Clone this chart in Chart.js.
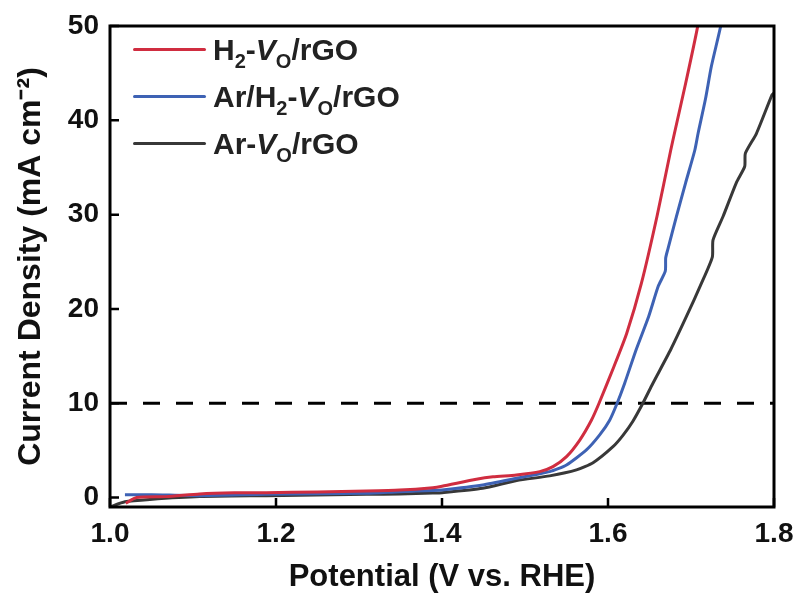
<!DOCTYPE html>
<html>
<head>
<meta charset="utf-8">
<script src="https://cdn.jsdelivr.net/npm/chart.js@4"></script>
<style>
  html, body { margin: 0; padding: 0; background: #fff; }
  #wrap { position: relative; width: 799px; height: 601px; }
  #legend { position: absolute; left: 133px; top: 26px; font-family: "Liberation Sans", Arial, sans-serif; font-weight: bold; font-size: 30px; color: #222; }
  #legend .row { display: flex; align-items: center; height: 47px; }
  #legend .line { width: 73px; height: 3px; margin-right: 7px; border-radius: 2px; }
  #legend sub { font-size: 20px; vertical-align: -8px; line-height: 0; }
</style>
</head>
<body>
<div id="wrap">
  <canvas id="lsvChart" width="799" height="601"></canvas>
  <div id="legend"></div>
</div>
<script>
// data
const seriesNames = ['H<sub>2</sub>-<i>V</i><sub>O</sub>/rGO', 'Ar/H<sub>2</sub>-<i>V</i><sub>O</sub>/rGO', 'Ar-<i>V</i><sub>O</sub>/rGO'];
const seriesColors = ['#d02d40', '#3e62b4', '#383838'];

const h2Potential = [1.019, 1.032, 1.068, 1.108, 1.15, 1.188, 1.25, 1.309, 1.349, 1.389, 1.4, 1.4414, 1.4615, 1.4896, 1.5177, 1.5337, 1.55, 1.566, 1.58, 1.5892, 1.6072, 1.6225, 1.6402, 1.659, 1.6755, 1.68, 1.6935, 1.7077, 1.709];
const h2Current   = [-0.6, 0.0, 0.1, 0.38, 0.5, 0.52, 0.6, 0.7, 0.8, 1.05, 1.2, 1.94, 2.2, 2.4, 2.75, 3.28, 4.34, 6.1, 8.2, 10, 13.9, 17.4, 22.7, 29.8, 36.8, 38.6, 43.9, 49.8, 51];

const arH2Potential = [1.018, 1.05, 1.108, 1.188, 1.309, 1.349, 1.389, 1.4, 1.449, 1.49, 1.5297, 1.55, 1.574, 1.59, 1.602, 1.611, 1.62, 1.634, 1.649, 1.6605, 1.669, 1.6695, 1.672, 1.6824, 1.6936, 1.7045, 1.7085, 1.7173, 1.7245, 1.7358, 1.737];
const arH2Current   = [0.3, 0.3, 0.2, 0.35, 0.45, 0.63, 0.75, 0.8, 1.34, 2.05, 2.75, 3.46, 5.05, 6.64, 8.2, 10, 12.1, 15.7, 19.2, 22.4, 24.0, 25.4, 26.3, 29.8, 33.4, 36.8, 38.6, 42.2, 45.7, 50, 51];

const arPotential = [1.0, 1.018, 1.048, 1.108, 1.188, 1.309, 1.349, 1.389, 1.4, 1.449, 1.49, 1.5297, 1.562, 1.582, 1.606, 1.618, 1.63, 1.642, 1.654, 1.6756, 1.6945, 1.7125, 1.7257, 1.7265, 1.7386, 1.7547, 1.7647, 1.7655, 1.7788, 1.7976, 1.8];
const arCurrent   = [-1.0, -0.45, -0.2, 0.1, 0.2, 0.35, 0.38, 0.48, 0.52, 0.98, 1.8, 2.3, 2.93, 3.7, 5.4, 6.6, 8.1, 10, 12.1, 15.7, 19.2, 22.7, 25.5, 27.3, 29.8, 33.4, 35.1, 36.5, 38.6, 42.7, 42.9];

const refPotential = [1.0, 1.8];
const refCurrent = [10, 10];

const xTicks = [1.0, 1.2, 1.4, 1.6, 1.8];
const yTicks = [0, 10, 20, 30, 40, 50];

function toPoints(xs, ys) {
    return xs.map((x, i) => ({ x: x, y: ys[i] }));
}

const fontFamily = '"Liberation Sans", Arial, sans-serif';
Chart.defaults.font.family = fontFamily;
Chart.defaults.color = '#111';

// frame and inward tick marks
const framePlugin = {
    id: 'frame',
    afterDraw(chart) {
        const ctx = chart.ctx;
        const a = chart.chartArea;
        const xs = chart.scales.x;
        const ys = chart.scales.y;
        ctx.save();
        ctx.strokeStyle = '#000';
        ctx.lineWidth = 3;
        ctx.strokeRect(a.left, a.top, a.right - a.left, a.bottom - a.top);
        ctx.lineWidth = 2.5;
        ctx.beginPath();
        xTicks.forEach(v => {
            const px = xs.getPixelForValue(v);
            ctx.moveTo(px, a.bottom);
            ctx.lineTo(px, a.bottom - 9);
        });
        yTicks.forEach(v => {
            const py = ys.getPixelForValue(v);
            ctx.moveTo(a.left, py);
            ctx.lineTo(a.left + 9, py);
        });
        ctx.stroke();
        ctx.restore();
    }
};

const curves = [
    toPoints(h2Potential, h2Current),
    toPoints(arH2Potential, arH2Current),
    toPoints(arPotential, arCurrent)
];

const datasets = curves.map((pts, i) => ({
    label: seriesNames[i].replace(/<[^>]+>/g, ''),
    data: pts,
    borderColor: seriesColors[i],
    borderWidth: 3,
    pointRadius: 0,
    tension: 0.2,
    fill: false
}));
datasets.push({
    label: 'j = 10',
    data: toPoints(refPotential, refCurrent),
    borderColor: '#000',
    borderWidth: 3,
    borderDash: [17, 16],
    pointRadius: 0,
    fill: false
});

const ctx = document.getElementById('lsvChart').getContext('2d');
const lsvChart = new Chart(ctx, {
    type: 'line',
    data: { datasets: datasets },
    options: {
        responsive: false,
        animation: false,
        layout: { padding: { top: 26, right: 25, left: 0, bottom: 0 } },
        plugins: {
            legend: { display: false },
            tooltip: { enabled: false }
        },
        scales: {
            x: {
                type: 'linear',
                min: 1.0,
                max: 1.8,
                afterBuildTicks: s => { s.ticks = xTicks.map(v => ({ value: v })); },
                afterFit: s => { s.height = 94; s.paddingLeft = 0; s.paddingRight = 0; },
                grid: { display: false, drawTicks: false },
                border: { display: false },
                ticks: {
                    padding: 10,
                    font: { size: 28, weight: 'bold' },
                    color: '#111',
                    callback: v => v.toFixed(1)
                },
                title: {
                    display: true,
                    text: 'Potential (V vs. RHE)',
                    font: { size: 31, weight: 'bold' },
                    color: '#111',
                    padding: { top: 6, bottom: 5 }
                }
            },
            y: {
                min: -1,
                max: 50,
                afterBuildTicks: s => { s.ticks = yTicks.map(v => ({ value: v })); },
                afterFit: s => { s.width = 110; s.paddingTop = 0; s.paddingBottom = 0; },
                grid: { display: false, drawTicks: false },
                border: { display: false },
                ticks: {
                    padding: 11,
                    font: { size: 28, weight: 'bold' },
                    color: '#111'
                },
                title: {
                    display: true,
                    text: 'Current Density (mA cm\u207B\u00B2)',
                    font: { size: 32, weight: 'bold' },
                    color: '#111',
                    padding: { top: 12, bottom: 4 }
                }
            }
        }
    },
    plugins: [framePlugin]
});

// legend with subscripts and italics
const legendBox = document.getElementById('legend');
seriesNames.forEach((name, i) => {
    const row = document.createElement('div');
    row.className = 'row';
    row.innerHTML = '<span class="line" style="background:' + seriesColors[i] + '"></span><span>' + name + '</span>';
    legendBox.appendChild(row);
});
</script>
</body>
</html>
